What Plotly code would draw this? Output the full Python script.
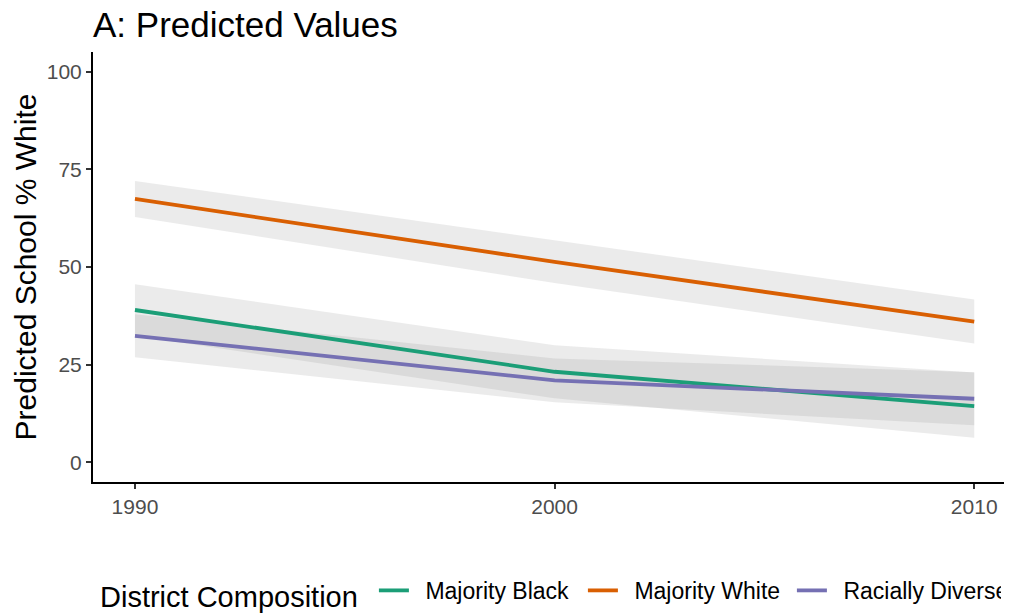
import plotly.graph_objects as go

years = [1990, 2000, 2010]
groups = ["Majority Black", "Majority White", "Racially Diverse"]
colors = ["#1B9E77", "#D95F02", "#7570B3"]

fit_black = [39.0, 23.2, 14.4]
low_black = [32.4, 16.4, 6.3]
high_black = [45.6, 30.0, 23.0]

fit_white = [67.4, 51.3, 36.0]
low_white = [62.8, 45.9, 30.4]
high_white = [72.0, 56.9, 41.7]

fit_diverse = [32.4, 21.0, 16.3]
low_diverse = [26.9, 15.4, 9.5]
high_diverse = [37.9, 26.6, 23.1]

fits = [fit_black, fit_white, fit_diverse]
lows = [low_black, low_white, low_diverse]
highs = [high_black, high_white, high_diverse]

ribbon_fill = "rgba(128,128,128,0.16)"
font_family = "Liberation Sans, Arial, sans-serif"

W, H = 1004, 605  # page body has an 8px margin

fig = go.Figure()

for g, lo, hi in zip(groups, lows, highs):
    fig.add_trace(go.Scatter(x=years, y=lo, mode="lines", line=dict(width=0),
                             showlegend=False, hoverinfo="skip"))
    fig.add_trace(go.Scatter(x=years, y=hi, mode="lines", line=dict(width=0),
                             fill="tonexty", fillcolor=ribbon_fill,
                             showlegend=False, hoverinfo="skip"))

for g, f, c in zip(groups, fits, colors):
    fig.add_trace(go.Scatter(x=years, y=f, mode="lines", name="\u2002" + g,
                             line=dict(color=c, width=3.8)))

fig.update_layout(
    width=W, height=H,
    paper_bgcolor="white", plot_bgcolor="white",
    margin=dict(l=85, r=0, t=44, b=131, autoexpand=False),
    font=dict(family=font_family, color="black"),
    title=dict(text="A: Predicted Values", x=85/W, xanchor="left",
               y=1 - 17/H, yanchor="middle",
               font=dict(size=35, color="black", family=font_family)),
    xaxis=dict(range=[1989, 2010.9], tickvals=years, ticktext=["1990", "2000", "2010"],
               automargin=False,
               showgrid=False, zeroline=False, showline=True, linecolor="black", linewidth=2,
               ticks="outside", ticklen=5, tickcolor="#333333", tickwidth=1.5,
               tickfont=dict(size=21, color="#4D4D4D", family=font_family)),
    yaxis=dict(range=[-5, 105], tickvals=[0, 25, 50, 75, 100],
               automargin=False,
               showgrid=False, zeroline=False, showline=True, linecolor="black", linewidth=2,
               ticks="outside", ticklen=5, tickcolor="#333333", tickwidth=1.5,
               tickfont=dict(size=21, color="#4D4D4D", family=font_family),
               title=dict(text="Predicted School % White", standoff=1,
                          font=dict(size=30, color="black", family=font_family))),
    legend=dict(orientation="h", x=5/919, xanchor="left", y=-0.258, yanchor="middle",
                traceorder="normal", entrywidth=164,
                title=dict(text="District Composition\u00a0", side="left",
                           font=dict(size=29, color="black", family=font_family)),
                font=dict(size=23, color="black", family=font_family),
                itemwidth=30, bgcolor="rgba(0,0,0,0)"),
)

fig.write_html("out.html")
